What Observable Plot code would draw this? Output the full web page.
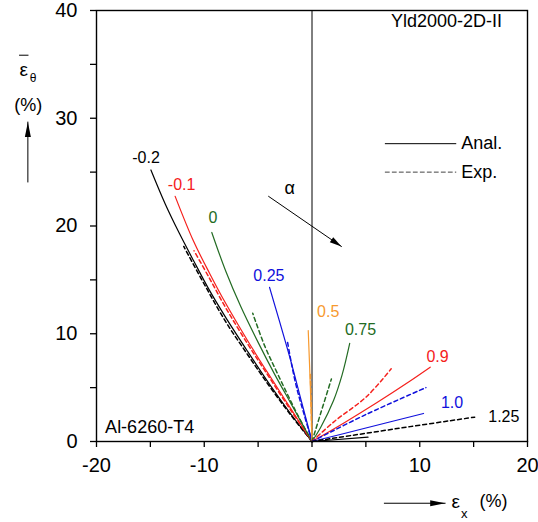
<!DOCTYPE html>
<html><head><meta charset="utf-8">
<script src="https://cdn.jsdelivr.net/npm/d3@7"></script>
<script src="https://cdn.jsdelivr.net/npm/@observablehq/plot@0.6"></script>
<style>body{margin:0;background:#fff}</style>
</head><body><div id="chart"></div>
<script>
// alpha values (series labels)
const alphaLabels = ["-0.2","-0.1","0","0.25","0.5","0.75","0.9","1.0","1.25"];
const seriesColors = ["#000000","#f5201c","#236b23","#1010dc","#f7992e","#236b23","#f5201c","#1010dc","#000000"];

// analytical strain paths [eps_x, eps_theta] (%)
const analM02 = [[0,0],[-2,2.6],[-4,5.4],[-6,8.4],[-8,11.5],[-9.5,14.0],[-11,16.8],[-12.3,19.3],[-13.6,22.0],[-14.95,25.2]];
const analM01 = [[0,0],[-2,3.1],[-4,6.2],[-6,9.4],[-8,12.8],[-9.5,15.6],[-11,18.6],[-12.7,22.75]];
const anal0   = [[0,0],[-1,1.8],[-2,3.6],[-3.5,6.3],[-5,9.2],[-6.6,12.5],[-8,15.8],[-9.3,19.4]];
const anal025 = [[0,0],[-1,3.8],[-2,7.6],[-3,11.1],[-3.94,14.3]];
const anal05  = [[0,0],[-0.15,5],[-0.35,10.3]];
const anal075 = [[0,0],[0.8,1.3],[2.0,3.8],[2.8,6.2],[3.5,9.1]];
const anal09  = [[0,0],[3,1.75],[6,3.6],[9,5.55],[10.97,6.9]];
const anal10  = [[0,0],[5,1.25],[10.35,2.6]];
const anal125 = [[0,0],[5.2,0.4]];

// experimental strain paths
const expM02 = [[0,0],[-2,2.5],[-4,5.2],[-6,8.1],[-8,11.1],[-10,14.6],[-11.9,18.1]];
const expM01 = [[0,0],[-2,2.95],[-4,6.0],[-6,9.1],[-8,12.4],[-9.6,15.3],[-10.95,17.7]];
const exp0   = [[0,0],[-1.4,2.6],[-3.2,6.3],[-4.4,8.9],[-5.5,11.9]];
const exp025 = [[0,0],[-0.7,2.4],[-1.4,4.9],[-1.9,7.2],[-2.3,9.4]];
const exp05  = [[0,0],[-0.15,6.3]];
const exp075 = [[0,0],[0.8,2.6],[1.8,5.8]];
const exp09  = [[0,0],[2,1.8],[5.1,4.2],[7.35,6.75]];
const exp10  = [[0,0],[5,2.5],[10.57,5.0]];
const exp125 = [[0,0],[9.1,1.38],[15.1,2.26]];

const analLines = [analM02, analM01, anal0, anal025, anal05, anal075, anal09, anal10, anal125];
const expLines  = [expM02, expM01, exp0, exp025, exp05, exp075, exp09, exp10, exp125];

// series label anchor points
const labelX = [-15.4,-12.1,-9.2,-4.0,1.5,4.5,11.65,13.0,17.8];
const labelY = [26.3,23.8,20.75,15.4,12.07,10.4,7.85,3.62,2.32];

// ticks
const xTicks = [-20,-15,-10,-5,0,5,10,15,20];
const yTicks = [0,5,10,15,20,25,30,35,40];

// annotations (data coordinates)
const noteText = ["Yld2000-2D-II","Al-6260-T4","Anal.","Exp.","α"];
const noteX = [17.64,-19.2,13.85,13.85,-2.08];
const noteY = [39.0,1.33,27.64,25.0,23.5];
const noteAnchor = ["end","start","start","start","middle"];
const legendSolid = [[6.8,27.64],[13.35,27.64]];
const legendDash  = [[6.8,25.0],[13.35,25.0]];
const alphaArrow = [[-4.03,22.75],[2.73,18.1]];
const yArrow = [[-26.37,24.08],[-26.37,29.65]];
const xArrow = [[6.71,-5.73],[12.36,-5.73]];
const epsBar = [[-27.15,35.85],[-26.35,35.85]];

const head = {
  draw(ctx, l, r) {
    ctx.moveTo(0, -l);
    ctx.lineTo(-r, 0);
    ctx.lineTo(r, 0);
    ctx.closePath();
  }
};
function arrowMarks(pts, len) {
  const [a, b] = pts;
  const ang = Math.atan2(b[0]-a[0], b[1]-a[1]) * 180 / Math.PI;
  return [
    Plot.line(pts, {stroke: "black", strokeWidth: 1}),
    Plot.vector([b], {x: d=>d[0], y: d=>d[1], length: len, rotate: ang, anchor: "end",
      shape: head, r: 3, fill: "black", stroke: "none"})
  ];
}

const font = "'Liberation Sans', Arial, Helvetica, sans-serif";
const chart = Plot.plot({
  width: 538, height: 522,
  marginLeft: 96, marginRight: 11, marginTop: 10, marginBottom: 81,
  style: {fontFamily: font, color: "black", background: "white", overflow: "visible"},
  x: {domain: [-20, 20]},
  y: {domain: [0, 40]},
  marks: [
    Plot.ruleX([0], {stroke: "black", strokeWidth: 1}),
    ...analLines.map((pts, i) => Plot.line(pts, {stroke: seriesColors[i], strokeWidth: 1.2, curve: "catmull-rom"})),
    ...expLines.map((pts, i) => Plot.line(pts, {stroke: seriesColors[i], strokeWidth: 1.5, strokeDasharray: "4,3", curve: "catmull-rom"})),
    ...alphaLabels.map((t, i) => Plot.text([t], {x: () => labelX[i], y: () => labelY[i], text: d => d, fill: seriesColors[i], fontSize: 16})),
    ...noteText.map((t, i) => Plot.text([t], {x: () => noteX[i], y: () => noteY[i], text: d => d, textAnchor: noteAnchor[i], fill: "black", fontSize: 18})),
    Plot.line(legendSolid, {stroke: "black", strokeWidth: 1}),
    Plot.line(legendDash, {stroke: "#444", strokeWidth: 1, strokeDasharray: "4,3"}),
    ...arrowMarks(alphaArrow, 12),
    ...arrowMarks(yArrow, 15),
    ...arrowMarks(xArrow, 15),
    // axis titles
    Plot.text(["ε"], {x: () => -26.76, y: () => 34.5, text: d => d, fontSize: 19}),
    Plot.line(epsBar, {stroke: "black", strokeWidth: 1}),
    Plot.text(["θ"], {x: () => -25.88, y: () => 33.7, text: d => d, fontSize: 12}),
    Plot.text(["(%)"], {x: () => -26.34, y: () => 31.2, text: d => d, fontSize: 18}),
    Plot.text(["ε"], {x: () => 13.33, y: () => -5.64, text: d => d, fontSize: 19}),
    Plot.text(["x"], {x: () => 14.12, y: () => -6.69, text: d => d, fontSize: 13}),
    Plot.text(["(%)"], {x: () => 16.85, y: () => -5.57, text: d => d, fontSize: 18}),
    Plot.axisX({ticks: xTicks, tickFormat: d => d % 10 === 0 ? String(d) : "", tickSize: 6, tickPadding: 10, fontSize: 20, strokeWidth: 1.3, label: null}),
    Plot.axisY({ticks: yTicks, tickFormat: d => d % 10 === 0 ? String(d) : "", tickSize: 6, tickPadding: 13, fontSize: 20, strokeWidth: 1.3, label: null}),
    Plot.frame({stroke: "black", strokeWidth: 1.4})
  ]
});
document.getElementById("chart").appendChild(chart);
</script>
</body></html>
